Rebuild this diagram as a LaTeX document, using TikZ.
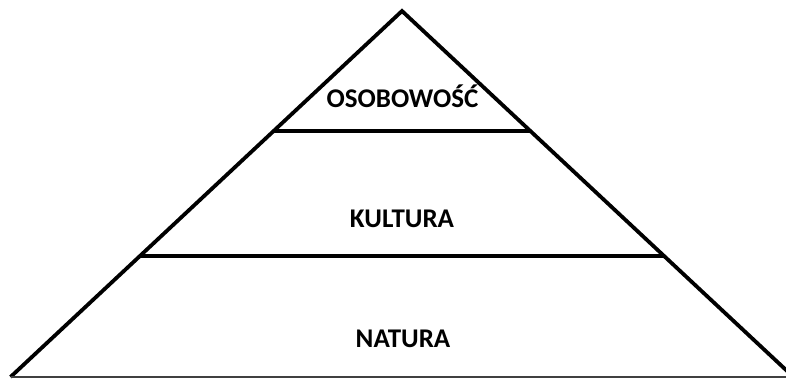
\documentclass[tikz,border=0pt]{standalone}
\usepackage{fontspec}
\setmainfont{Carlito}
\usetikzlibrary{calc}

\begin{document}
\begin{tikzpicture}[x=1pt, y=-1pt,
  pyredge/.style={line width=3.8pt, line join=miter, line cap=butt},
  layerline/.style={line width=4.2pt},
  layertext/.style={font={\fontsize{27}{32}\selectfont\bfseries}, inner sep=0pt}
]
\useasboundingbox (0,0) rectangle (786,378);
\clip (0,0) rectangle (786,378);
\coordinate (apex) at (402.00,11.00);
\coordinate (bl) at (10.50,377.00);
\coordinate (br) at (793.50,377.00);
\coordinate (l1) at ($(apex)!0.328!(bl)$);
\coordinate (r1) at ($(apex)!0.328!(br)$);
\coordinate (l2) at ($(apex)!0.670!(bl)$);
\coordinate (r2) at ($(apex)!0.670!(br)$);
\draw[pyredge] (bl) -- (apex) -- (br);
\draw[line width=1.4pt, black!75] (bl) -- (br);
\draw[layerline] (l1) -- (r1);
\draw[layerline] (l2) -- (r2);
\node[layertext] (top) at (402.50,96.00) {OSOBOWOŚĆ};
\node[layertext] (mid) at (402.00,219.00) {KULTURA};
\node[layertext] (low) at (403.00,339.00) {NATURA};
\end{tikzpicture}
\end{document}
